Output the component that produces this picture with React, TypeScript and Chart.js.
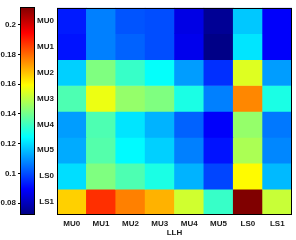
import React, { useEffect, useRef } from "react";
import { Chart, registerables } from "chart.js";
Chart.register(...registerables);

const columns = ["MU0", "MU1", "MU2", "MU3", "MU4", "MU5", "LS0", "LS1"];
const rows = ["MU0", "MU1", "MU2", "MU3", "MU4", "MU5", "LS0", "LS1"];
const rowMU0 = [0.093, 0.107, 0.101, 0.1, 0.086, 0.075, 0.117, 0.089];
const rowMU1 = [0.092, 0.107, 0.103, 0.1, 0.087, 0.073, 0.121, 0.089];
const rowMU2 = [0.118, 0.142, 0.132, 0.125, 0.111, 0.096, 0.155, 0.111];
const rowMU3 = [0.135, 0.157, 0.145, 0.142, 0.128, 0.107, 0.176, 0.128];
const rowMU4 = [0.111, 0.135, 0.121, 0.114, 0.103, 0.089, 0.145, 0.106];
const rowMU5 = [0.113, 0.136, 0.124, 0.118, 0.107, 0.092, 0.148, 0.108];
const rowLS0 = [0.12, 0.142, 0.135, 0.128, 0.114, 0.099, 0.16, 0.115];
const rowLS1 = [0.166, 0.188, 0.177, 0.17, 0.153, 0.132, 0.212, 0.152];
const values = [rowMU0, rowMU1, rowMU2, rowMU3, rowMU4, rowMU5, rowLS0, rowLS1];
const colorMin = 0.072;
const colorMax = 0.212;
const colorTicks = [0.08, 0.1, 0.12, 0.14, 0.16, 0.18, 0.2];
const axisTitle = "LLH";

const clamp = (v: number) => Math.max(0, Math.min(1, v));
function jet(t: number): string {
  t = clamp(t);
  const r = clamp(1.5 - Math.abs(4 * t - 3));
  const g = clamp(1.5 - Math.abs(4 * t - 2));
  const b = clamp(1.5 - Math.abs(4 * t - 1));
  return `rgb(${Math.round(r * 255)},${Math.round(g * 255)},${Math.round(b * 255)})`;
}
const norm = (v: number) => (v - colorMin) / (colorMax - colorMin);

const FONT = { family: "'Liberation Sans', Arial, sans-serif", size: 8, weight: "bold" as const, lineHeight: 1.2 };
const TEXT = "#1a1a1a";

const boxPlugin = {
  id: "box",
  afterDatasetsDraw(chart: any) {
    const a = chart.chartArea;
    const c = chart.ctx;
    c.save();
    c.strokeStyle = "#000";
    c.lineWidth = 1;
    c.strokeRect(Math.round(a.left) + 0.5, Math.round(a.top) + 0.5, Math.round(a.right - a.left) - 1, Math.round(a.bottom - a.top) - 1);
    c.restore();
  },
};

export default function App() {
  const barRef = useRef<HTMLCanvasElement>(null);
  const mapRef = useRef<HTMLCanvasElement>(null);

  useEffect(() => {
    document.body.style.margin = "0";
    const map = new Chart(mapRef.current!, {
      type: "bar",
      data: {
        labels: columns,
        datasets: rows.map((r, ri) => ({
          label: r,
          data: values[ri].map(() => [ri, ri + 1]) as any,
          grouped: false,
          barPercentage: 1,
          categoryPercentage: 1,
          borderWidth: 0,
          backgroundColor: values[ri].map((v) => jet(norm(v))),
        })) as any,
      },
      options: {
        responsive: false,
        animation: false,
        devicePixelRatio: 1,
        layout: { padding: { left: 0, right: 4, top: 7, bottom: 0 } },
        plugins: { legend: { display: false }, tooltip: { enabled: false } },
        scales: {
          x: {
            afterFit: (s: any) => {
              s.height = 25;
            },
            border: { display: false },
            grid: { display: false, drawTicks: false, tickLength: 0 },
            ticks: { color: TEXT, font: FONT, padding: 4, maxRotation: 0, autoSkip: false },
            title: { display: true, text: axisTitle, color: TEXT, font: FONT, padding: { top: 0, bottom: 2 } },
          },
          y: {
            min: 0,
            max: rows.length,
            reverse: true,
            afterBuildTicks: (s: any) => {
              s.ticks = rows.map((_, i) => ({ value: i + 0.5 }));
            },
            afterFit: (s: any) => {
              s.width = 57;
            },
            border: { display: false },
            grid: { display: false, drawTicks: false, tickLength: 0 },
            ticks: {
              color: TEXT,
              font: FONT,
              padding: 3,
              callback: (v: any) => rows[Math.floor(Number(v))],
            },
          },
        },
      },
      plugins: [boxPlugin],
    });

    const bar = new Chart(barRef.current!, {
      type: "bar",
      data: {
        labels: ["c"],
        datasets: [
          {
            data: [[colorMin, colorMax]] as any,
            barPercentage: 1,
            categoryPercentage: 1,
            inflateAmount: 0,
            backgroundColor: (ctx: any) => {
              const chart = ctx.chart;
              const ys = chart.scales && chart.scales.y;
              if (!chart.chartArea || !ys) return "blue";
              const g = chart.ctx.createLinearGradient(0, ys.getPixelForValue(colorMin), 0, ys.getPixelForValue(colorMax));
              for (let i = 0; i <= 16; i++) g.addColorStop(i / 16, jet(i / 16));
              return g;
            },
          } as any,
        ],
      },
      options: {
        responsive: false,
        animation: false,
        devicePixelRatio: 1,
        layout: { padding: { left: 0, right: 1, top: 7, bottom: 25 } },
        plugins: { legend: { display: false }, tooltip: { enabled: false } },
        scales: {
          x: { display: false },
          y: {
            min: colorMin,
            max: colorMax,
            afterBuildTicks: (s: any) => {
              s.ticks = colorTicks.map((v) => ({ value: v }));
            },
            afterFit: (s: any) => {
              s.width = 20;
            },
            border: { display: false },
            grid: { drawOnChartArea: false, drawTicks: true, tickLength: 2, color: "#000" },
            ticks: {
              color: TEXT,
              font: FONT,
              padding: 2,
              callback: (v: any) => String(Number(Number(v).toFixed(2))),
            },
          },
        },
      },
      plugins: [boxPlugin],
    });
    return () => {
      bar.destroy();
      map.destroy();
    };
  }, []);

  return (
    <div style={{ position: "absolute", left: 0, top: 0, width: 296, height: 240, background: "#fff" }}>
      <canvas ref={mapRef} width={296} height={240} style={{ position: "absolute", left: 0, top: 0 }} />
      <canvas ref={barRef} width={36} height={240} style={{ position: "absolute", left: 0, top: 0 }} />
    </div>
  );
}
